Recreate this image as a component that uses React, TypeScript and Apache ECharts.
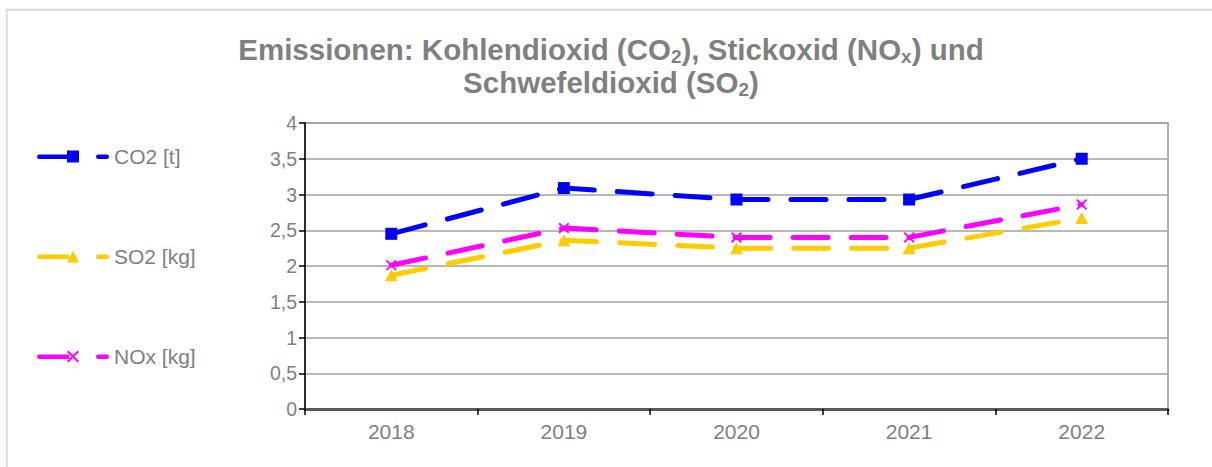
import React, { useEffect, useRef } from "react";
import * as echarts from "echarts";

const categories = ["2018", "2019", "2020", "2021", "2022"];
const co2Values = [2.45, 3.09, 2.93, 2.93, 3.5];
const so2Values = [1.87, 2.36, 2.25, 2.25, 2.67];
const noxValues = [2.01, 2.53, 2.4, 2.4, 2.86];
const seriesNames = ["CO2 [t]", "SO2 [kg]", "NOx [kg]"];
const seriesColors = ["#0000ff", "#ffcc00", "#ff00ff"];

const FONT = "Liberation Sans, Arial, sans-serif";
const GRAY = "#808080";

const lineAndDash =
  "M2.25,4 L32,4 L32,8.5 L2.25,8.5 A2.25,2.25 0 0 1 2.25,4 Z M61.25,4 L69.75,4 A2.25,2.25 0 0 1 69.75,8.5 L61.25,8.5 A2.25,2.25 0 0 1 61.25,4 Z";
const squareIcon = "path://" + lineAndDash + " M30,0 L42,0 L42,12 L30,12 Z";
const triangleIcon = "path://" + lineAndDash + " M30,12 L36,0 L42,12 Z";
const crossIcon =
  "path://" +
  lineAndDash +
  " M30,1.4 L31.4,0 L36,4.6 L40.6,0 L42,1.4 L37.4,6 L42,10.6 L40.6,12 L36,7.4 L31.4,12 L30,10.6 L34.6,6 Z";
const crossSymbol =
  "path://M0,1.4 L1.4,0 L6,4.6 L10.6,0 L12,1.4 L7.4,6 L12,10.6 L10.6,12 L6,7.4 L1.4,12 L0,10.6 L4.6,6 Z";

export default function App() {
  const ref = useRef<HTMLDivElement>(null);
  useEffect(() => {
    if (!ref.current) return;
    const chart = echarts.init(ref.current, undefined, { renderer: "svg" });
    const legendTops = [146, 246, 346];
    const icons = [squareIcon, triangleIcon, crossIcon];
    const dashed = (color: string) => ({
      color,
      width: 5,
      type: [35, 23] as any,
      cap: "round" as const,
    });
    chart.setOption({
      animation: false,
      backgroundColor: "#ffffff",
      title: {
        left: 611,
        top: 33,
        textAlign: "center",
        padding: 0,
        text:
          "{a|Emissionen: Kohlendioxid (CO}{s|2}{a|), Stickoxid (NO}{s|x}{a|) und}\n{a|Schwefeldioxid (SO}{s|2}{a|)}",
        textStyle: {
          rich: {
            a: { fontSize: 29.5, fontWeight: "bold", color: GRAY, lineHeight: 33, fontFamily: FONT },
            s: { fontSize: 19, fontWeight: "bold", color: GRAY, lineHeight: 14, verticalAlign: "bottom", fontFamily: FONT },
          },
        },
      },
      graphic: [
        {
          type: "rect",
          silent: true,
          shape: { x: 6.7, y: 9.7, width: 1400, height: 700 },
          style: { fill: "none", stroke: "#dcdcdc", lineWidth: 2 },
        },
      ],
      legend: seriesNames.map((name, i) => ({
        data: [{ name, icon: icons[i] }],
        orient: "vertical",
        left: 37,
        top: legendTops[i],
        padding: 0,
        itemWidth: 72,
        itemHeight: 12,
        selectedMode: false,
        textStyle: { color: GRAY, fontSize: 21, fontFamily: FONT },
      })),
      grid: {
        left: 305,
        top: 123,
        right: 44,
        bottom: 58,
        show: true,
        borderColor: "#b3b3b3",
        borderWidth: 2,
        backgroundColor: "transparent",
      },
      xAxis: {
        type: "category",
        data: categories,
        boundaryGap: true,
        axisLine: { show: true, lineStyle: { color: "#595959", width: 3 } },
        axisTick: { show: true, length: 6, lineStyle: { color: "#000000", width: 1.5 } },
        axisLabel: { color: GRAY, fontSize: 21, fontFamily: FONT, margin: 12 },
        splitLine: { show: false },
      },
      yAxis: {
        type: "value",
        min: 0,
        max: 4,
        interval: 0.5,
        axisLine: { show: true, lineStyle: { color: "#000000", width: 1.5 } },
        axisTick: { show: true, length: 6, lineStyle: { color: "#000000", width: 1.5 } },
        axisLabel: {
          color: GRAY,
          fontSize: 19.5,
          fontFamily: FONT,
          margin: 8,
          formatter: (v: number) => String(v).replace(".", ","),
        },
        splitLine: { show: true, lineStyle: { color: "#a0a0a0", width: 1.5 } },
      },
      series: [
        {
          name: seriesNames[0],
          type: "line",
          data: co2Values,
          symbol: "rect",
          symbolSize: 12,
          itemStyle: { color: seriesColors[0] },
          lineStyle: dashed(seriesColors[0]),
        },
        {
          name: seriesNames[1],
          type: "line",
          data: so2Values,
          symbol: "triangle",
          symbolSize: [13, 12],
          itemStyle: { color: seriesColors[1] },
          lineStyle: dashed(seriesColors[1]),
        },
        {
          name: seriesNames[2],
          type: "line",
          data: noxValues,
          symbol: crossSymbol,
          symbolSize: 11,
          itemStyle: { color: seriesColors[2] },
          lineStyle: dashed(seriesColors[2]),
        },
      ],
    });
    return () => chart.dispose();
  }, []);
  return (
    <div
      ref={ref}
      style={{ position: "absolute", left: 0, top: 0, width: 1212, height: 467 }}
    />
  );
}
